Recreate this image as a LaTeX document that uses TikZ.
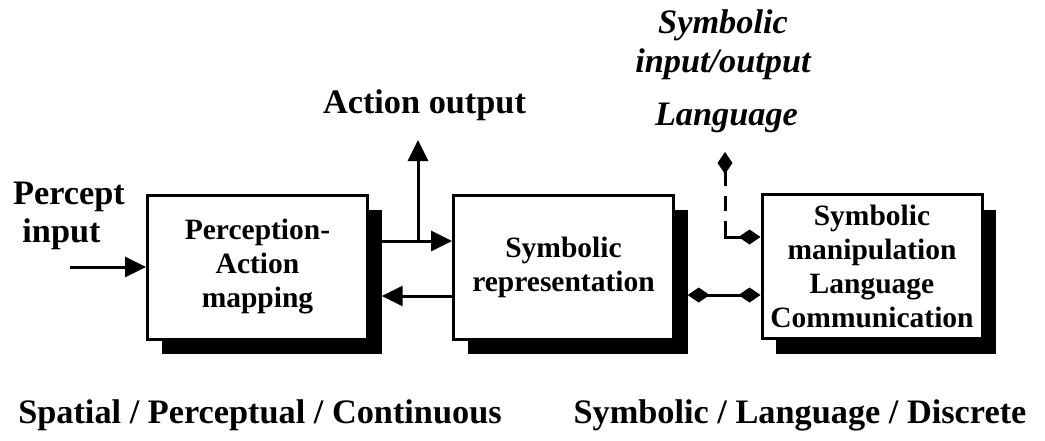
\documentclass[tikz,border=0pt]{standalone}
\usepackage{fontspec}
\setmainfont{Liberation Serif}
\usetikzlibrary{arrows.meta,calc}
\begin{document}
\begin{tikzpicture}[x=1pt,y=-1pt,
 box/.style={draw=black,line width=3pt,fill=white,minimum width=220pt,minimum height=144pt,inner sep=0pt,align=center,font=\fontsize{29.5}{34}\selectfont\bfseries},
 shade/.style={fill=black,minimum width=220pt,minimum height=144pt,inner sep=0pt},
 lbl/.style={font=\fontsize{34.3}{38}\selectfont\bfseries,inner sep=0pt,anchor=base},
 ilbl/.style={font=\fontsize{34.3}{39}\selectfont\bfseries\itshape,inner sep=0pt,anchor=base},
 conn/.style={line width=3pt},
 arr/.style={conn,-{Triangle[length=21pt,width=20pt]}},
 dtip/.tip={Diamond[length=22pt,width=15pt]},
]
\fill[white] (0,0) rectangle (1045,440);
\useasboundingbox (0,0) rectangle (1045,440);

% boxes with shadows
\node[shade] (s1) at (271.5,282) {};
\node[box] (b1) at (257.5,267) {Perception-\\Action\\mapping};
\node[shade] (s2) at (577.5,282) {};
\node[box] (b2) at (563.5,267) {Symbolic\\representation};
\node[shade] (s3) at (886,282) {};
\node[box] (b3) at (872,266) {Symbolic\\manipulation\\Language\\Communication};

% labels
\node[lbl,align=center] (pin-l) at (69,242) {Percept\\input\hspace*{15pt}};
\node[lbl] (ao) at (424.5,113) {Action output};
\node[ilbl,align=center] (sio) at (723,72) {Symbolic\\input/output};
\node[ilbl] (lang) at (726.5,125) {Language};
\node[lbl] (spc) at (260,423) {Spatial / Perceptual / Continuous};
\node[lbl] (sld) at (800,423) {Symbolic / Language / Discrete};

% coordinates
\coordinate (pin) at (70,267);
\coordinate (j) at (418,241);
\coordinate (aotip) at (418,140);
\coordinate (ltip) at (725,152);
\coordinate (corner) at (725,237);

% connectors
\draw[arr] (pin) -- (pin -| b1.west);
\draw[arr] (s1.east |- j) -- (b2.west |- j);
\draw[arr] (j) -- (aotip);
\draw[arr] (b2.west |- 0,296) -- (s1.east |- 0,296);
\draw[conn,dtip-dtip] (s2.east |- 0,295) -- (b3.west |- 0,295);
\draw[conn,dash pattern=on 15pt off 10pt,dtip-] (ltip) -- (corner);
\draw[conn,line cap=rect,-dtip] (corner) -- (b3.west |- corner);
\end{tikzpicture}
\end{document}
